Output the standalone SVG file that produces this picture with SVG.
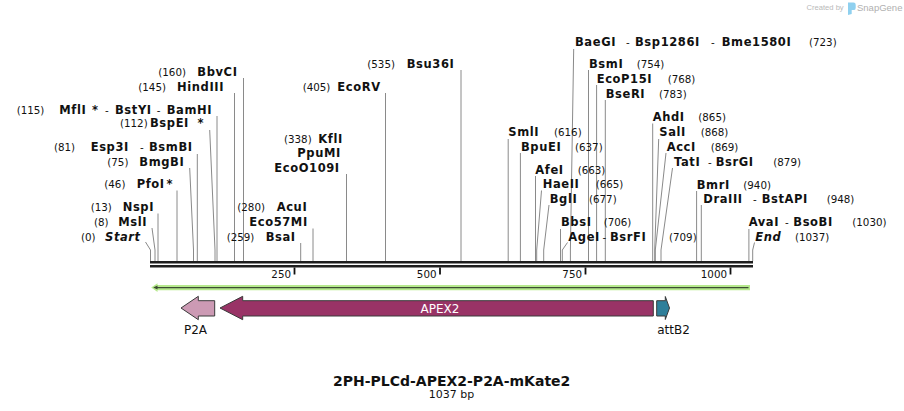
<svg xmlns="http://www.w3.org/2000/svg" width="904" height="411" viewBox="0 0 904 411">
<style>
text{font-family:"DejaVu Sans",Verdana,sans-serif;font-size:10.3px;fill:#111}
.b{font-weight:bold;font-size:11.5px;letter-spacing:0.6px}
.i{font-style:italic}
.cl{fill:none;stroke:#8a8a8a;stroke-width:1}
.bb{stroke:#1e1e1e;stroke-width:2.4}
.tick{stroke:#111;stroke-width:1.8}
.feat{stroke:#3a3a3a;stroke-width:1}
.flbl{font-size:12px}
</style>
<rect width="904" height="411" fill="#fff"/>

<g id="logo">
<text x="806.5" y="10" style="font-family:'Liberation Sans',sans-serif;font-size:7.6px;fill:#b9b9b9">Created by</text>
<path d="M848,2.5 h5.5 q2.2,0 2.2,2.2 v3.2 q0,2.2 -2.2,2.2 h-1.8 v3.8 l-3.7,1.2 z" fill="#8fd0ef"/>
<text x="857" y="11" style="font-family:'Liberation Sans',sans-serif;font-size:9.5px;fill:#b0b0b0">SnapGene</text>
</g>

<g id="connectors">
<path class="cl" d="M243.5,78 V261"/>
<path class="cl" d="M234.5,93 V261"/>
<path class="cl" d="M217,116 V261"/>
<path class="cl" d="M209.7,130 L215,250 V261"/>
<path class="cl" d="M197.3,154 V261"/>
<path class="cl" d="M189.7,168 L193.5,250 V261"/>
<path class="cl" d="M177,190.5 V261"/>
<path class="cl" d="M158,213.5 V261"/>
<path class="cl" d="M152,228 L155,250 V261"/>
<path class="cl" d="M145.5,242 L150.5,250 V261"/>
<path class="cl" d="M313,228.5 V261"/>
<path class="cl" d="M300.7,243 V261"/>
<path class="cl" d="M346.5,174 V261"/>
<path class="cl" d="M385.5,93 V261"/>
<path class="cl" d="M461,70 V261"/>
<path class="cl" d="M573.7,49 L570.4,250 V261"/>
<path class="cl" d="M588.5,70 V261"/>
<path class="cl" d="M596.6,85 V261"/>
<path class="cl" d="M605.3,100 V261"/>
<path class="cl" d="M652.7,123.5 V261"/>
<path class="cl" d="M658.7,139 L654.7,250 V261"/>
<path class="cl" d="M666,153 L655.3,250 V261"/>
<path class="cl" d="M672.5,168 L661,250 V261"/>
<path class="cl" d="M508.2,139 V261"/>
<path class="cl" d="M520.4,153 V261"/>
<path class="cl" d="M535.5,176 V261"/>
<path class="cl" d="M541.5,190.5 L536.7,250 V261"/>
<path class="cl" d="M549,205 L543.7,250 V261"/>
<path class="cl" d="M560.5,229 V261"/>
<path class="cl" d="M567.5,242.5 L562.3,250 V261"/>
<path class="cl" d="M696.6,191 V261"/>
<path class="cl" d="M701.3,205 V261"/>
<path class="cl" d="M748.9,229 V261"/>
<path class="cl" d="M754.5,242.5 L752.7,250 V261"/>
</g>

<g id="backbone">
<line class="bb" x1="150" y1="262.2" x2="753" y2="262.2"/>
<line class="bb" x1="150" y1="266.3" x2="753" y2="266.3"/>
<line class="tick" x1="294.5" y1="267.5" x2="294.5" y2="274.5"/>
<line class="tick" x1="440" y1="267.5" x2="440" y2="274.5"/>
<line class="tick" x1="585.5" y1="267.5" x2="585.5" y2="274.5"/>
<line class="tick" x1="730.5" y1="267.5" x2="730.5" y2="274.5"/>
<text x="291" y="277.5" text-anchor="end">250</text>
<text x="436.5" y="277.5" text-anchor="end">500</text>
<text x="582" y="277.5" text-anchor="end">750</text>
<text x="727" y="277.5" text-anchor="end">1000</text>
</g>

<!-- left-side enzyme labels -->
<g id="BbvCI"><text y="75.5"><tspan x="158.3">(160)</tspan><tspan class="b" x="197.3">BbvCI</tspan></text></g>
<g id="HindIII"><text y="90.5"><tspan x="138.3">(145)</tspan><tspan class="b" x="177">HindIII</tspan></text></g>
<g id="MflI"><text y="113.5"><tspan x="16.7">(115)</tspan><tspan class="b" x="59.3">MflI</tspan><tspan class="b" x="92">*</tspan><tspan x="105">-</tspan><tspan class="b" x="115">BstYI</tspan><tspan x="156.7">-</tspan><tspan class="b" x="166.7">BamHI</tspan></text></g>
<g id="BspEI"><text y="127"><tspan x="120">(112)</tspan><tspan class="b" x="150">BspEI</tspan><tspan class="b" x="197.5">*</tspan></text></g>
<g id="Esp3I"><text y="151"><tspan x="54">(81)</tspan><tspan class="b" x="90.7">Esp3I</tspan><tspan x="140">-</tspan><tspan class="b" x="149">BsmBI</tspan></text></g>
<g id="BmgBI"><text y="165.5"><tspan x="107.3">(75)</tspan><tspan class="b" x="139.3">BmgBI</tspan></text></g>
<g id="PfoI"><text y="188"><tspan x="104.3">(46)</tspan><tspan class="b" x="136.7">PfoI</tspan><tspan class="b" x="166.5">*</tspan></text></g>
<g id="NspI"><text y="211"><tspan x="90.7">(13)</tspan><tspan class="b" x="122.7">NspI</tspan></text></g>
<g id="MslI"><text y="226"><tspan x="94">(8)</tspan><tspan class="b" x="118.3">MslI</tspan></text></g>
<g id="Start"><text y="240.5"><tspan x="81">(0)</tspan><tspan class="b i" x="105">Start</tspan></text></g>
<g id="AcuI"><text y="211"><tspan x="237.3">(280)</tspan><tspan class="b" x="276.7">AcuI</tspan></text><text y="226"><tspan class="b" x="249.3">Eco57MI</tspan></text></g>
<g id="BsaI"><text y="240.5"><tspan x="226.7">(259)</tspan><tspan class="b" x="265.7">BsaI</tspan></text></g>
<g id="KflI"><text y="142.5"><tspan x="284">(338)</tspan><tspan class="b" x="318.3">KflI</tspan></text><text y="157"><tspan class="b" x="297.3">PpuMI</tspan></text><text y="171.5"><tspan class="b" x="274.3">EcoO109I</tspan></text></g>
<g id="EcoRV"><text y="90.5"><tspan x="302.7">(405)</tspan><tspan class="b" x="337.3">EcoRV</tspan></text></g>
<g id="Bsu36I"><text y="67.5"><tspan x="367.3">(535)</tspan><tspan class="b" x="406.7">Bsu36I</tspan></text></g>

<!-- right-side enzyme labels -->
<g id="BaeGI"><text y="46"><tspan class="b" x="575">BaeGI</tspan><tspan x="626">-</tspan><tspan class="b" x="635">Bsp1286I</tspan><tspan x="711">-</tspan><tspan class="b" x="721.7">Bme1580I</tspan><tspan x="809">(723)</tspan></text></g>
<g id="BsmI"><text y="67.7"><tspan class="b" x="589">BsmI</tspan><tspan x="636.7">(754)</tspan></text></g>
<g id="EcoP15I"><text y="82.7"><tspan class="b" x="596.7">EcoP15I</tspan><tspan x="667.7">(768)</tspan></text></g>
<g id="BseRI"><text y="97.7"><tspan class="b" x="605.7">BseRI</tspan><tspan x="659">(783)</tspan></text></g>
<g id="AhdI"><text y="120.5"><tspan class="b" x="652.7">AhdI</tspan><tspan x="698.3">(865)</tspan></text></g>
<g id="SalI"><text y="136"><tspan class="b" x="659.3">SalI</tspan><tspan x="700.7">(868)</tspan></text></g>
<g id="AccI"><text y="150.5"><tspan class="b" x="666.7">AccI</tspan><tspan x="710.7">(869)</tspan></text></g>
<g id="TatI"><text y="165.5"><tspan class="b" x="674">TatI</tspan><tspan x="708">-</tspan><tspan class="b" x="715.7">BsrGI</tspan><tspan x="773.3">(879)</tspan></text></g>
<g id="SmlI"><text y="136"><tspan class="b" x="508.3">SmlI</tspan><tspan x="554">(616)</tspan></text></g>
<g id="BpuEI"><text y="150.5"><tspan class="b" x="521">BpuEI</tspan><tspan x="575">(637)</tspan></text></g>
<g id="AfeI"><text y="173.5"><tspan class="b" x="535.3">AfeI</tspan><tspan x="577.7">(663)</tspan></text></g>
<g id="HaeII"><text y="188"><tspan class="b" x="542.7">HaeII</tspan><tspan x="595.7">(665)</tspan></text></g>
<g id="BglI"><text y="202.5"><tspan class="b" x="549.7">BglI</tspan><tspan x="589">(677)</tspan></text></g>
<g id="BbsI"><text y="226"><tspan class="b" x="561">BbsI</tspan><tspan x="603.7">(706)</tspan></text></g>
<g id="AgeI"><text y="240.5"><tspan class="b" x="568.3">AgeI</tspan><tspan x="602.5">-</tspan><tspan class="b" x="610">BsrFI</tspan><tspan x="669">(709)</tspan></text></g>
<g id="BmrI"><text y="188.5"><tspan class="b" x="696.7">BmrI</tspan><tspan x="743.3">(940)</tspan></text></g>
<g id="DraIII"><text y="202.5"><tspan class="b" x="703.3">DraIII</tspan><tspan x="753">-</tspan><tspan class="b" x="761.7">BstAPI</tspan><tspan x="826.7">(948)</tspan></text></g>
<g id="AvaI"><text y="226"><tspan class="b" x="748.7">AvaI</tspan><tspan x="785">-</tspan><tspan class="b" x="793.3">BsoBI</tspan><tspan x="852.3">(1030)</tspan></text></g>
<g id="End"><text y="240.5"><tspan class="b i" x="755.3">End</tspan><tspan x="795">(1037)</tspan></text></g>

<!-- features -->
<g id="seq-arrow">
<path d="M151.2,287.6 L157.5,283.3 L157.5,285 L750,285 L750,290.2 L157.5,290.2 L157.5,291.9 Z" fill="#b6e98d"/>
<line x1="156" y1="287.6" x2="748.5" y2="287.6" stroke="#3d4d34" stroke-width="1.4"/>
<path d="M153.2,287.6 L157.5,285.6 L157.5,289.6 Z" fill="#3d4d34"/>
</g>
<g id="P2A">
<path class="feat" d="M181,308 L198.3,296.3 L198.3,300.7 L214.7,300.7 L214.7,316 L198.3,316 L198.3,319.7 Z" fill="#cc9ab4"/>
<text class="flbl" x="195.5" y="334" text-anchor="middle">P2A</text>
</g>
<g id="APEX2">
<path class="feat" d="M220,308 L242.7,296.3 L242.7,300.7 L653.3,300.7 L653.3,316 L242.7,316 L242.7,319.7 Z" fill="#993366"/>
<text class="flbl" x="440" y="312.5" text-anchor="middle" style="fill:#fff">APEX2</text>
</g>
<g id="attB2">
<path class="feat" d="M656.7,300.7 L665.3,300.7 L665.3,296.5 L669.5,308 L665.3,319.5 L665.3,316 L656.7,316 Z" fill="#2f7f9a"/>
<text class="flbl" x="673.5" y="334" text-anchor="middle">attB2</text>
</g>

<g id="title">
<text x="451.7" y="386" text-anchor="middle" style="font-weight:bold;font-size:14px">2PH-PLCd-APEX2-P2A-mKate2</text>
<text x="451.5" y="397.5" text-anchor="middle" style="font-size:11px">1037 bp</text>
</g>
</svg>
